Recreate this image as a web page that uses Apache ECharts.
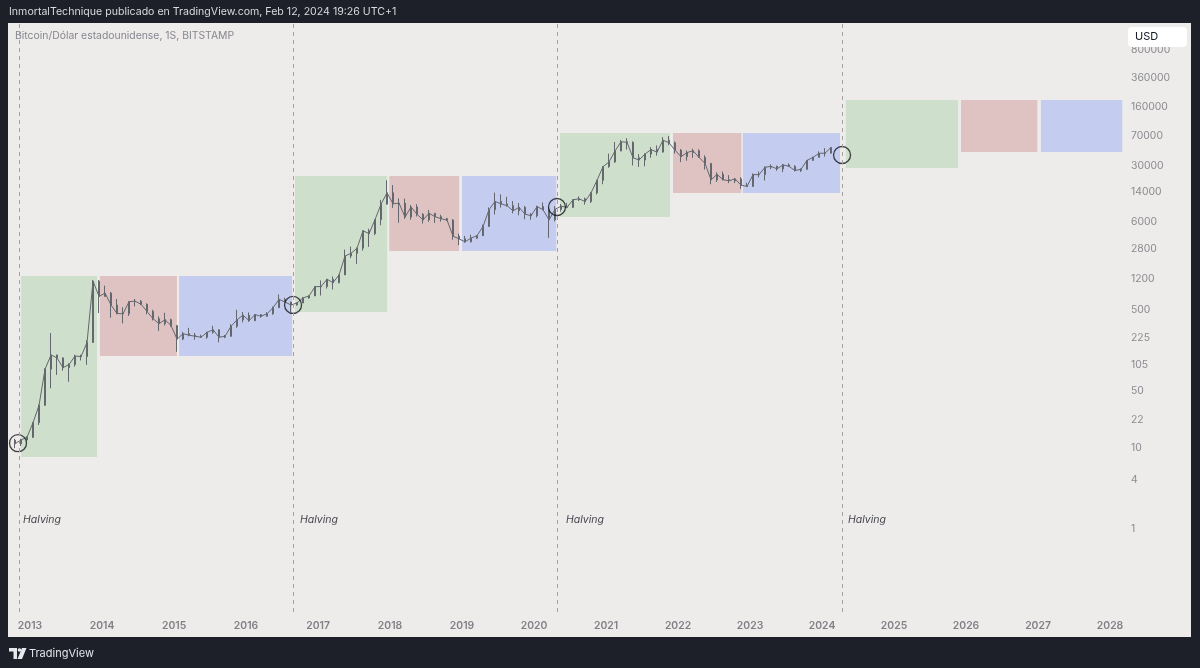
<!DOCTYPE html>
<html lang="es">

<head>
    <meta charset="UTF-8">
    <title>Bitcoin halving ciclos</title>
    <script src="https://cdn.jsdelivr.net/npm/echarts@6/dist/echarts.min.js"></script>
    <style>
        body { margin: 0; background: #1d2029; }
        #main { width: 1200px; height: 668px; }
    </style>
</head>

<body>
    <div id="main"></div>
    <script type="text/javascript">
        // primera vela mensual: 2012-10
        var firstYear = 2012, firstMonth = 10;
        // velas mensuales BTC/USD (open, close, low, high)
        var candles = [
            [12.4, 11.2, 9.9, 12.9], [11.2, 12.5, 10.5, 12.9], [12.5, 13.5, 12.3, 13.9],
            // 2013
            [13.5, 20.4, 13.2, 20.8], [20.4, 33.4, 19.1, 33.9], [33.4, 93, 33, 95], [93, 139, 54, 259],
            [139, 128, 79, 140], [128, 97, 89, 130], [97, 106, 65, 110], [106, 135, 100, 140],
            [135, 133, 119, 140], [133, 198, 105, 212], [198, 1129, 198, 1163], [1129, 732, 456, 1165],
            // 2014
            [732, 803, 734, 995], [803, 573, 400, 830], [573, 450, 440, 680], [450, 448, 340, 540],
            [448, 630, 420, 635], [630, 640, 550, 680], [640, 585, 570, 660], [585, 478, 440, 600],
            [478, 388, 370, 500], [388, 338, 275, 415], [338, 378, 320, 460], [378, 320, 310, 390],
            // 2015
            [320, 218, 152, 320], [218, 254, 212, 268], [254, 244, 236, 300], [244, 236, 214, 260],
            [236, 230, 225, 247], [230, 264, 220, 268], [264, 284, 254, 318], [284, 230, 199, 286],
            [230, 236, 224, 245], [236, 314, 235, 333], [314, 377, 300, 500], [377, 430, 350, 470],
            // 2016
            [430, 368, 355, 465], [368, 437, 365, 440], [437, 416, 400, 440], [416, 448, 413, 469],
            [448, 531, 435, 550], [531, 673, 530, 775], [673, 624, 610, 705], [624, 573, 470, 630],
            [573, 608, 565, 615], [608, 700, 603, 720], [700, 742, 685, 755], [742, 963, 740, 980],
            // 2017
            [963, 968, 750, 1150], [968, 1190, 915, 1200], [1190, 1080, 890, 1290], [1080, 1347, 1060, 1355],
            [1347, 2300, 1345, 2760], [2300, 2480, 2170, 3000], [2480, 2875, 1840, 2920], [2875, 4700, 2680, 4740],
            [4700, 4338, 2980, 4975], [4338, 6460, 4160, 6470], [6460, 10000, 5500, 11300], [10000, 13800, 10000, 19666],
            // 2018
            [13800, 10100, 9000, 17200], [10100, 10300, 5900, 11780], [10300, 6930, 6600, 11700], [6930, 9240, 6430, 9760],
            [9240, 7500, 7050, 9990], [7500, 6390, 5780, 7760], [6390, 7730, 6080, 8500], [7730, 7010, 5880, 7760],
            [7010, 6630, 6100, 7410], [6630, 6370, 6200, 6800], [6370, 4040, 3650, 6560], [4040, 3740, 3120, 4340],
            // 2019
            [3740, 3440, 3350, 4070], [3440, 3820, 3380, 4200], [3820, 4100, 3730, 4130], [4100, 5320, 4080, 5600],
            [5320, 8560, 5330, 9100], [8560, 10820, 7450, 13880], [10820, 10080, 9070, 13200], [10080, 9600, 9330, 12330],
            [9600, 8290, 7710, 10930], [8290, 9150, 7300, 10370], [9150, 7560, 6520, 9510], [7560, 7200, 6430, 7750],
            // 2020
            [7200, 9350, 6870, 9570], [9350, 8540, 8420, 10500], [8540, 6410, 3850, 9180], [6410, 8630, 6150, 9460],
            [8630, 9450, 8100, 10070], [9450, 9140, 8900, 10380], [9140, 11340, 8980, 11450], [11340, 11650, 10950, 12480],
            [11650, 10780, 9880, 12060], [10780, 13800, 10370, 14100], [13800, 19700, 13200, 19860], [19700, 28990, 17600, 29300],
            // 2021
            [28990, 33100, 28100, 41950], [33100, 45200, 32300, 58350], [45200, 58800, 44960, 61780], [58800, 57700, 47000, 64900],
            [57700, 37300, 30000, 59500], [37300, 35040, 28800, 41300], [35040, 41460, 29300, 42300], [41460, 47100, 37300, 50500],
            [47100, 43800, 39600, 52900], [43800, 61300, 43300, 67000], [61300, 57000, 53300, 69000], [57000, 46200, 42000, 59100],
            // 2022
            [46200, 38500, 32900, 47900], [38500, 43200, 34300, 45800], [43200, 45500, 37200, 48200], [45500, 37700, 37600, 47400],
            [37700, 31800, 26700, 40000], [31800, 19900, 17600, 31900], [19900, 23300, 18800, 24700], [23300, 20050, 19600, 25200],
            [20050, 19400, 18150, 22800], [19400, 20500, 18200, 21000], [20500, 17150, 15480, 21450], [17150, 16540, 16250, 18400],
            // 2023
            [16540, 23120, 16500, 23950], [23120, 23130, 21400, 25250], [23130, 28470, 19570, 29200], [28470, 29250, 26940, 31000],
            [29250, 27200, 25800, 29800], [27200, 30470, 24800, 31390], [30470, 29230, 28860, 31800], [29230, 25930, 25300, 30200],
            [25930, 26960, 24900, 27480], [26960, 34660, 26550, 35000], [34660, 37720, 34100, 38420], [37720, 42280, 37600, 44700],
            // 2024
            [42280, 42580, 38500, 48970], [42580, 49900, 41880, 50300]
        ];

        // fechas de los halvings (lineas discontinuas) y circulos
        var halvingLines = [2012.847, 2016.653, 2020.319, 2024.278];
        var halvingCircles = [[2012.833, 11.4], [2016.653, 574], [2020.319, 9240], [2024.278, 40360]];
        var halvingTextAt = [[2012.903, 1.29], [2016.75, 1.29], [2020.444, 1.29], [2024.361, 1.29]];

        // cajas de cada ciclo: inicio, fin, minimo, maximo, tipo
        var boxStart = [2012.875, 2013.97, 2015.07, 2016.68, 2017.99, 2019.0, 2020.36, 2021.93, 2022.90, 2024.33, 2025.93, 2027.04];
        var boxEnd = [2013.93, 2015.04, 2016.64, 2017.96, 2018.96, 2020.31, 2021.89, 2022.88, 2024.25, 2025.89, 2026.99, 2028.17];
        var boxLow = [7.7, 135, 135, 470, 2653, 2653, 6956, 13740, 13740, 27900, 43950, 43950];
        var boxHigh = [1306, 1306, 1306, 22250, 22250, 22250, 75300, 75300, 75300, 191900, 191900, 191900];
        var boxKind = ['g', 'r', 'b', 'g', 'r', 'b', 'g', 'r', 'b', 'g', 'r', 'b'];

        var yearTicks = [2013, 2014, 2015, 2016, 2017, 2018, 2019, 2020, 2021, 2022, 2023, 2024, 2025, 2026, 2027, 2028];
        var priceTicks = [1, 4, 10, 22, 50, 105, 225, 500, 1200, 2800, 6000, 14000, 30000, 70000, 160000, 360000, 800000];

        var boxColors = { g: '#cedfcb', r: '#dfc3c3', b: '#c4cdef' };
        var font = 'Inter, "Noto Sans", sans-serif';
        var barGray = '#64676e';

        var candleData = candles.map(function (c, i) {
            var m = firstMonth - 1 + i;
            var x = firstYear + m / 12 + 0.5 / 12;
            return [x, c[0], c[1], c[2], c[3]];
        });
        var closeLine = candleData.map(function (d) { return [d[0], d[2]]; });

        var areas = boxStart.map(function (s, i) {
            return [
                { xAxis: s, yAxis: boxHigh[i], itemStyle: { color: boxColors[boxKind[i]] } },
                { xAxis: boxEnd[i], yAxis: boxLow[i] }
            ];
        });

        var myChart = echarts.init(document.getElementById('main'));
        var option = {
            animation: false,
            backgroundColor: '#1d2029',
            graphic: [
                { type: 'rect', shape: { x: 8, y: 23, width: 1183, height: 614 }, style: { fill: '#eeecea' }, z: -10 },
                { type: 'text', x: 9, y: 12, style: { text: 'InmortalTechnique publicado en TradingView.com, Feb 12, 2024 19:26 UTC+1', fill: '#d8dae0', font: '10.6px ' + font, verticalAlign: 'middle' } },
                { type: 'text', x: 15, y: 36, style: { text: 'Bitcoin/Dólar estadounidense, 1S, BITSTAMP', fill: '#85878f', font: '10.4px ' + font, verticalAlign: 'middle' } },
                { type: 'rect', shape: { x: 1128, y: 27, width: 59, height: 20, r: 4 }, style: { fill: '#ffffff' }, z: 100 },
                { type: 'text', x: 1135, y: 37, z: 101, style: { text: 'USD', fill: '#131722', font: '11px ' + font, verticalAlign: 'middle' } },
                // logo TradingView
                { type: 'polygon', shape: { points: [[9, 648], [17, 648], [17, 659], [13.5, 659], [13.5, 651.5], [9, 651.5]] }, style: { fill: '#e6e8ee' } },
                { type: 'circle', shape: { cx: 19.5, cy: 650, r: 1.8 }, style: { fill: '#e6e8ee' } },
                { type: 'polygon', shape: { points: [[22, 648], [26.5, 648], [22, 659], [17.5, 659]] }, style: { fill: '#e6e8ee' } },
                { type: 'text', x: 29, y: 654, style: { text: 'TradingView', fill: '#e0e3ea', font: '11px ' + font, verticalAlign: 'middle' } }
            ],
            grid: { left: 8, right: 76, top: 23, bottom: 56, containLabel: false },
            xAxis: {
                type: 'value',
                min: 2012.694,
                max: 2028.194,
                axisLine: { show: false },
                axisTick: { show: false },
                splitLine: { show: false },
                axisLabel: {
                    customValues: yearTicks,
                    formatter: function (v) { return String(Math.round(v)); },
                    color: '#7f8086',
                    fontFamily: font,
                    fontSize: 10.4,
                    fontWeight: 600,
                    margin: 9
                }
            },
            yAxis: {
                type: 'log',
                logBase: 10,
                position: 'right',
                min: 0.095,
                max: 1703600,
                axisLine: { show: false },
                axisTick: { show: false },
                splitLine: { show: false },
                axisLabel: {
                    customValues: priceTicks,
                    formatter: function (v) { return String(v); },
                    color: '#8a8b90',
                    fontFamily: font,
                    fontSize: 10.4,
                    margin: 7
                }
            },
            series: [
                {
                    type: 'line',
                    data: [],
                    z: 1,
                    silent: true,
                    markArea: { silent: true, data: areas },
                    markLine: {
                        silent: true,
                        symbol: ['none', 'none'],
                        label: { show: false },
                        lineStyle: { type: [4, 4], color: '#a2a2a4', width: 1 },
                        data: halvingLines.map(function (x) { return { xAxis: x }; })
                    }
                },
                {
                    type: 'line',
                    z: 2,
                    silent: true,
                    symbol: 'none',
                    lineStyle: { color: barGray, width: 1 },
                    data: closeLine
                },
                {
                    type: 'candlestick',
                    z: 3,
                    barMaxWidth: 2,
                    encode: { x: 0, y: [1, 2, 3, 4] },
                    itemStyle: {
                        color: barGray,
                        color0: barGray,
                        borderColor: barGray,
                        borderColor0: barGray,
                        borderWidth: 1
                    },
                    data: candleData
                },
                {
                    type: 'scatter',
                    z: 4,
                    symbol: 'circle',
                    symbolSize: 17,
                    itemStyle: { color: 'rgba(0,0,0,0)', borderColor: '#15171c', borderWidth: 1.3 },
                    data: halvingCircles
                },
                {
                    type: 'scatter',
                    z: 4,
                    symbolSize: 0,
                    label: {
                        show: true,
                        position: 'right',
                        distance: 0,
                        formatter: 'Halving',
                        color: '#131722',
                        fontFamily: font,
                        fontSize: 10.5,
                        fontStyle: 'italic'
                    },
                    data: halvingTextAt
                }
            ]
        };
        myChart.setOption(option);
    </script>
</body>

</html>
